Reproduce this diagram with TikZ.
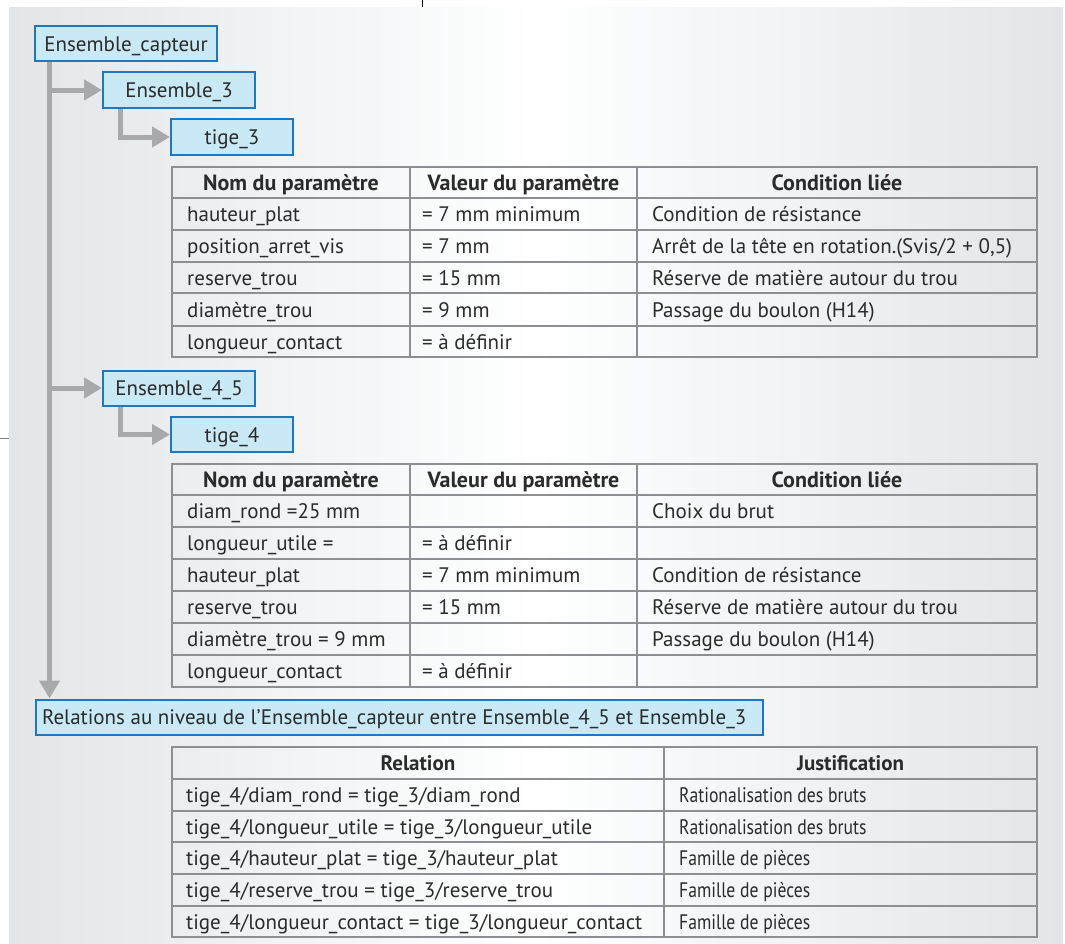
\documentclass[tikz,border=0pt]{standalone}
\usepackage{fontspec}
\setmainfont{PT Sans}
\newfontfamily\condfont{PT Sans}[FakeStretch=0.84]
\usetikzlibrary{arrows.meta}
\definecolor{boxfill}{HTML}{C8E9F5}
\definecolor{boxblue}{HTML}{1F78BF}
\definecolor{arrowgray}{HTML}{A7A9AC}
\definecolor{gridgray}{HTML}{8D8F92}
\definecolor{txt}{HTML}{2B2B2B}
\definecolor{bgside}{HTML}{E2E6E9}
\tikzset{
  base/.style={inner sep=0pt, text=txt, font=\fontsize{21}{24}\selectfont, text height=16pt, text depth=1pt},
  box/.style={base, draw=boxblue, fill=boxfill, line width=2pt},
  cell/.style={base, anchor=west},
  head/.style={base, font=\fontsize{22}{24}\selectfont\bfseries},
  cond/.style={cell, font=\fontsize{21}{24}\selectfont\condfont},
  condhead/.style={base, font=\fontsize{21}{24}\selectfont\bfseries},
  grid/.style={draw=gridgray, line width=1.6pt},
  link/.style={draw=arrowgray, line width=5pt, -{Triangle[length=18pt,width=20pt]}},
}
\begin{document}
\begin{tikzpicture}[x=1pt,y=-1pt]
\useasboundingbox (0,0) rectangle (1065,943);
\fill[white] (0,0) rectangle (1065,943);
\shade[left color=bgside, right color=bgside, middle color=white] (9,7) rectangle (1063,943);
\draw[black, line width=0.8pt] (422,0) -- (422,7);
\draw[gray, line width=0.8pt] (0,438) -- (9,438);

% boxes
\node[box, minimum width=182pt, minimum height=35pt] (ec) at (126,43.5) {Ensemble\_capteur};
\node[box, minimum width=152pt, minimum height=36pt] (e3) at (179,90) {Ensemble\_3};
\node[box, minimum width=122pt, minimum height=36pt] (t3) at (232,137) {tige\_3};
\node[box, minimum width=152pt, minimum height=35pt] (e45) at (179,388) {Ensemble\_4\_5};
\node[box, minimum width=122pt, minimum height=35pt] (t4) at (232,434.5) {tige\_4};
\node[box, anchor=west, minimum width=727pt, minimum height=35pt] (rel) at (35,717)
  {\makebox[715pt][l]{Relations au niveau de l’Ensemble\_capteur entre Ensemble\_4\_5 et Ensemble\_3}};

% connectors
\coordinate (tk) at (49.5,0);
\coordinate (ek) at (120.5,0);
\draw[link] (ec.south -| tk) -- (rel.north -| tk);
\draw[link] (e3.west -| tk) -- (e3.west);
\draw[link] (e3.south -| ek) |- (t3.west);
\draw[link] (e45.west -| tk) -- (e45.west);
\draw[link] (e45.south -| ek) |- (t4.west);

% table 1
\draw[grid] (172,167) rectangle (1037,357);
\foreach \y in {198,230,262,293,326} \draw[grid] (172,\y) -- (1037,\y);
\foreach \x in {410,637} \draw[grid] (\x,167) -- (\x,357);
\node[head] (a0) at (291,182.5) {Nom du paramètre};
\node[head] (b0) at (523.5,182.5) {Valeur du paramètre};
\node[head] (c0) at (837,182.5) {Condition liée};
\node[cell] (a1) at (187,214) {hauteur\_plat};
\node[cell] (b1) at (422,214) {= 7 mm minimum};
\node[cell] (c1) at (652,214) {Condition de résistance};
\node[cell] (a2) at (187,246) {position\_arret\_vis};
\node[cell] (b2) at (422,246) {= 7 mm};
\node[cell] (c2) at (652,246) {Arrêt de la tête en rotation.(Svis/2 + 0,5)};
\node[cell] (a3) at (187,277.5) {reserve\_trou};
\node[cell] (b3) at (422,277.5) {= 15 mm};
\node[cell] (c3) at (652,277.5) {Réserve de matière autour du trou};
\node[cell] (a4) at (187,309.5) {diamètre\_trou};
\node[cell] (b4) at (422,309.5) {= 9 mm};
\node[cell] (c4) at (652,309.5) {Passage du boulon (H14)};
\node[cell] (a5) at (187,341.5) {longueur\_contact};
\node[cell] (b5) at (422,341.5) {= à définir};

% table 2
\draw[grid] (172,464) rectangle (1037,687);
\foreach \y in {495,527,559,591,623,655} \draw[grid] (172,\y) -- (1037,\y);
\foreach \x in {410,637} \draw[grid] (\x,464) -- (\x,687);
\node[head] (d0) at (291,479.5) {Nom du paramètre};
\node[head] (e0) at (523.5,479.5) {Valeur du paramètre};
\node[head] (f0) at (837,479.5) {Condition liée};
\node[cell] (d1) at (187,511) {diam\_rond =25 mm};
\node[cell] (f1) at (652,511) {Choix du brut};
\node[cell] (d2) at (187,543) {longueur\_utile =};
\node[cell] (e2) at (422,543) {= à définir};
\node[cell] (d3) at (187,575) {hauteur\_plat};
\node[cell] (e3v) at (422,575) {= 7 mm minimum};
\node[cell] (f3) at (652,575) {Condition de résistance};
\node[cell] (d4) at (187,607) {reserve\_trou};
\node[cell] (e4) at (422,607) {= 15 mm};
\node[cell] (f4) at (652,607) {Réserve de matière autour du trou};
\node[cell] (d5) at (187,639) {diamètre\_trou = 9 mm};
\node[cell] (f5) at (652,639) {Passage du boulon (H14)};
\node[cell] (d6) at (187,671) {longueur\_contact};
\node[cell] (e6) at (422,671) {= à définir};

% table 3
\draw[grid] (172,747) rectangle (1037,937);
\foreach \y in {779,811,842,874,906} \draw[grid] (172,\y) -- (1037,\y);
\draw[grid] (664,747) -- (664,937);
\node[condhead] (g0) at (418,763) {Relation};
\node[condhead] (h0) at (850.5,763) {Justification};
\node[cell] (g1) at (186,795) {tige\_4/diam\_rond = tige\_3/diam\_rond};
\node[cond] (h1) at (679,795) {Rationalisation des bruts};
\node[cell] (g2) at (186,826.5) {tige\_4/longueur\_utile = tige\_3/longueur\_utile};
\node[cond] (h2) at (679,826.5) {Rationalisation des bruts};
\node[cell] (g3) at (186,858) {tige\_4/hauteur\_plat = tige\_3/hauteur\_plat};
\node[cond] (h3) at (679,858) {Famille de pièces};
\node[cell] (g4) at (186,890) {tige\_4/reserve\_trou = tige\_3/reserve\_trou};
\node[cond] (h4) at (679,890) {Famille de pièces};
\node[cell] (g5) at (186,921.5) {tige\_4/longueur\_contact = tige\_3/longueur\_contact};
\node[cond] (h5) at (679,921.5) {Famille de pièces};
\end{tikzpicture}
\end{document}
